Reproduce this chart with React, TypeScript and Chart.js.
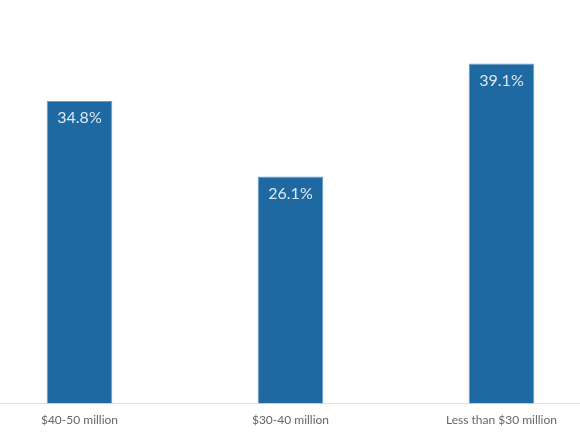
import React, { useEffect, useRef } from "react";
import { Chart, registerables } from "chart.js";

Chart.register(...registerables);

const categories = ["$40-50 million", "$30-40 million", "Less than $30 million"];
const values = [34.8, 26.1, 39.1];
const valueLabels = ["34.8%", "26.1%", "39.1%"];

const barLabelPlugin = {
  id: "barLabels",
  afterDatasetsDraw(chart: any) {
    const ctx = chart.ctx;
    const meta = chart.getDatasetMeta(0);
    ctx.save();
    ctx.font = "16px Lato";
    ctx.fillStyle = "#dde8f2";
    ctx.textAlign = "center";
    ctx.textBaseline = "middle";
    meta.data.forEach((el: any, i: number) => {
      ctx.fillText(valueLabels[i], el.x, el.y + 17);
    });
    ctx.restore();
  },
};

export default function App() {
  const ref = useRef<HTMLCanvasElement | null>(null);
  useEffect(() => {
    document.body.style.margin = "0";
    const chart = new Chart(ref.current!, {
      type: "bar",
      data: {
        labels: categories,
        datasets: [
          {
            data: values,
            backgroundColor: "#1f69a3",
            borderColor: "#6d9cc6",
            borderWidth: 1,
            barPercentage: 0.311,
            categoryPercentage: 1,
          },
        ],
      },
      options: {
        animation: false,
        responsive: false,
        maintainAspectRatio: false,
        layout: { padding: { left: 0, right: 0, top: 0, bottom: 8 } },
        plugins: { legend: { display: false }, tooltip: { enabled: false } },
        scales: {
          x: {
            grid: { display: false, drawTicks: false, tickLength: 0 },
            border: { display: true, color: "#dddddd", width: 1 },
            ticks: { color: "#666666", font: { family: "Lato", size: 12 }, padding: 9 },
          },
          y: { display: false, min: 0, max: 46.4 },
        },
      },
      plugins: [barLabelPlugin],
    });
    return () => chart.destroy();
  }, []);
  return (
    <div style={{ position: "relative", width: 580, height: 435, overflow: "hidden" }}>
      <canvas
        ref={ref}
        width={633}
        height={444}
        style={{ position: "absolute", left: -26, top: 0, width: 633, height: 444 }}
      />
    </div>
  );
}
